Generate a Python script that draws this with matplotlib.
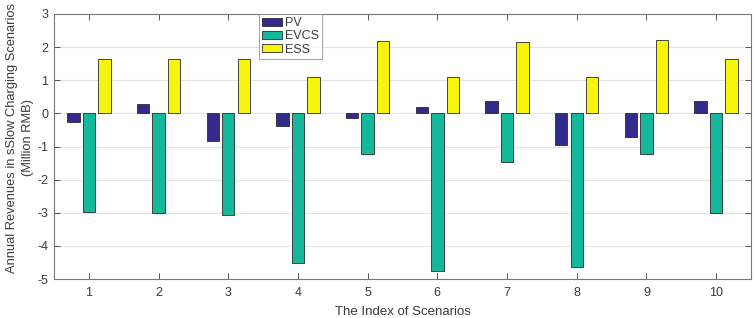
import matplotlib
matplotlib.use("Agg")
import matplotlib.pyplot as plt
import numpy as np

plt.rcParams['font.family'] = ['Liberation Sans', 'DejaVu Sans']
plt.rcParams['axes.unicode_minus'] = False

scenarios = [1, 2, 3, 4, 5, 6, 7, 8, 9, 10]
pv = [-0.27, 0.29, -0.84, -0.37, -0.13, 0.20, 0.38, -0.95, -0.72, 0.37]
evcs = [-2.97, -3.00, -3.06, -4.53, -1.23, -4.75, -1.46, -4.63, -1.23, -3.02]
ess = [1.64, 1.64, 1.64, 1.11, 2.20, 1.11, 2.16, 1.11, 2.21, 1.64]
series_names = ["PV", "EVCS", "ESS"]
yticks = [3, 2, 1, 0, -1, -2, -3, -4, -5]

colors = ["#322a8c", "#14b89a", "#f8f50c"]
txt = "#3a3a3a"

fig = plt.figure(figsize=(7.54, 3.18), dpi=100)
ax = fig.add_axes([54/754, 1-279/318, (751-54)/754, (279-14)/318])

x = np.array(scenarios, dtype=float)
off = 0.222
w = 0.178
for i, (vals, name) in enumerate(zip([pv, evcs, ess], series_names)):
    ax.bar(x + (i-1)*off, vals, width=w, color=colors[i], edgecolor="#2a2a2a",
           linewidth=0.6, label=name, zorder=3)

ax.set_xlim(0.5, 10.5)
ax.set_ylim(-5, 3)
ax.set_xticks(scenarios)
ax.set_yticks(yticks)
ax.yaxis.grid(True, color="#e3e3e3", linewidth=0.8, zorder=0)
ax.set_axisbelow(True)
ax.tick_params(direction="in", top=True, right=True, length=4, colors="#555555",
               labelcolor=txt, labelsize=9, width=0.7)
ax.tick_params(axis="x", pad=6)
ax.tick_params(axis="y", pad=4)
for s in ax.spines.values():
    s.set_color("#777777")
    s.set_linewidth(0.8)

ax.set_xlabel("The Index of Scenarios", fontsize=9.5, color=txt, labelpad=5)
ax.set_ylabel("Annual Revenues in sSlow Charging Scenarios\n(Million RMB)",
              fontsize=9.3, color=txt, linespacing=1.45)
ax.yaxis.set_label_coords(-0.028, (279-138)/265)

leg = ax.legend(loc="upper left", bbox_to_anchor=((259-54)/697, 1.0), fontsize=9,
                frameon=True, fancybox=False, edgecolor="#888888",
                handlelength=1.6, handleheight=0.6, handletextpad=0.2,
                borderpad=0.25, labelspacing=0.1, borderaxespad=0)
leg.get_frame().set_linewidth(0.7)
for t in leg.get_texts():
    t.set_color(txt)

fig.savefig("out.png", dpi=100)
